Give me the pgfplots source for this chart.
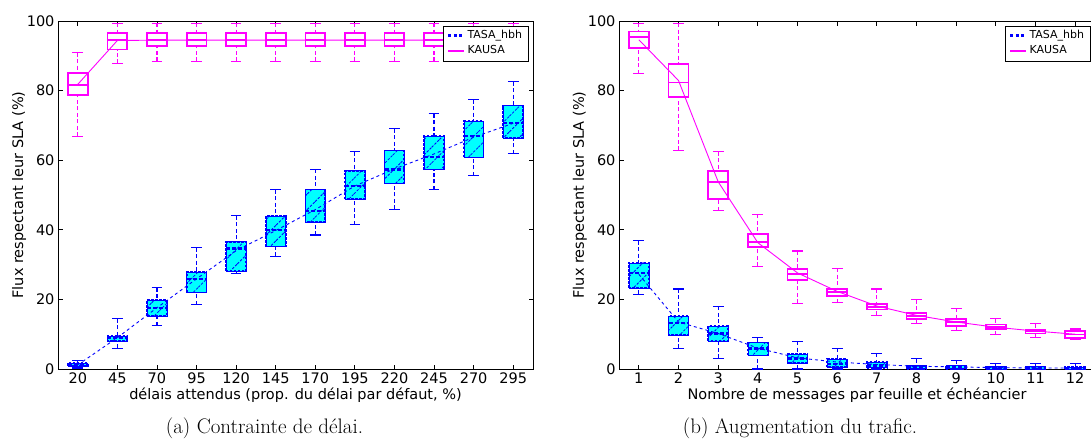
\documentclass[border=0pt]{standalone}
\usepackage{fontspec}
\setmainfont{DejaVu Sans}
\newfontfamily\lmfont{Latin Modern Roman}
\usepackage{pgfplots}
\pgfplotsset{compat=1.18}
\usepgfplotslibrary{statistics}
\usetikzlibrary{patterns.meta}
\definecolor{mag}{RGB}{255,0,255}
\definecolor{cy}{RGB}{0,255,255}
\definecolor{bl}{RGB}{0,0,255}

\pgfplotsset{
  /pgfplots/boxplot/every cap/.style={},
  /pgfplots/boxplot/draw/lower whisker/.code={%
    \draw[/pgfplots/boxplot/every whisker/.try]
      (boxplot box cs:\pgfplotsboxplotvalue{lower whisker},0.5) --
      (boxplot box cs:\pgfplotsboxplotvalue{lower quartile},0.5);
    \draw[/pgfplots/boxplot/every cap/.try]
      (boxplot whisker cs:\pgfplotsboxplotvalue{lower whisker},0) --
      (boxplot whisker cs:\pgfplotsboxplotvalue{lower whisker},1);
  },
  /pgfplots/boxplot/draw/upper whisker/.code={%
    \draw[/pgfplots/boxplot/every whisker/.try]
      (boxplot box cs:\pgfplotsboxplotvalue{upper whisker},0.5) --
      (boxplot box cs:\pgfplotsboxplotvalue{upper quartile},0.5);
    \draw[/pgfplots/boxplot/every cap/.try]
      (boxplot whisker cs:\pgfplotsboxplotvalue{upper whisker},0) --
      (boxplot whisker cs:\pgfplotsboxplotvalue{upper whisker},1);
  },
  kbox/.style={forget plot, draw=mag, boxplot/draw direction=y,
    boxplot/box extend=0.5, boxplot/whisker extend=0.27,
    boxplot/every box/.style={draw=mag, line width=1.8pt, solid},
    boxplot/every median/.style={draw=mag, line width=1.8pt, solid},
    boxplot/every whisker/.style={draw=mag, line width=1.1pt, dash pattern=on 4pt off 2.5pt},
    boxplot/every cap/.style={draw=mag, line width=1.1pt, solid}},
  tbox/.style={forget plot, draw=bl, boxplot/draw direction=y,
    boxplot/box extend=0.5, boxplot/whisker extend=0.27,
    boxplot/every box/.style={draw=bl, line width=1.8pt, dash pattern=on 2.5pt off 1.5pt,
      preaction={fill=cy}, pattern={Lines[angle=45,distance=11pt,line width=0.8pt]}, pattern color=bl},
    boxplot/every median/.style={draw=bl, line width=2.2pt, dash pattern=on 4pt off 2pt},
    boxplot/every whisker/.style={draw=bl, line width=1.1pt, dash pattern=on 4pt off 2.5pt},
    boxplot/every cap/.style={draw=bl, line width=1.1pt, solid}},
  myaxis/.style={scale only axis, height=348pt,
    xmin=0.5, xmax=12.5, ymin=0, ymax=100,
    xtick={1,...,12}, ytick={0,20,40,60,80,100},
    tick align=inside, major tick length=4.5pt,
    every tick/.style={black, line width=0.8pt},
    axis line style={black, line width=0.9pt},
    tick label style={font=\fontsize{14.5}{16}\selectfont},
    /pgf/number format/assume math mode=true,
    label style={font=\fontsize{14.5}{16}\selectfont},
    ylabel={Flux respectant leur SLA (\%)},
    ylabel style={at={(axis description cs:-0.082,0.5)}, anchor=center, inner sep=0pt},
    xlabel style={at={(axis description cs:0.5,-0.089)}, anchor=base, inner sep=0pt},
    legend style={at={(1,1)}, anchor=north east, xshift=-4.5pt, yshift=-4.5pt,
      draw=black, line width=0.8pt, font=\fontsize{11}{13}\selectfont,
      inner xsep=4pt, inner ysep=2.5pt, row sep=1pt,
      nodes={inner sep=2pt, text height=8pt, text depth=2.5pt},
      /tikz/every even column/.append style={column sep=7pt}},
    legend cell align=left,
  },
}
\newcommand{\bx}[7]{\addplot[#1, boxplot prepared={draw direction=y, draw position=#2, lower whisker=#3, lower quartile=#4, median=#5, upper quartile=#6, upper whisker=#7}] coordinates {};}
\newcommand{\legs}{%
  \addlegendimage{legend image code/.code={\draw[bl, line width=2.4pt, dash pattern=on 3pt off 2.5pt] (0pt,0pt) -- (16pt,0pt);}}
  \addlegendentry{TASA\_hbh}
  \addlegendimage{legend image code/.code={\draw[mag, line width=2.4pt] (0pt,0pt) -- (16pt,0pt);}}
  \addlegendentry{KAUSA}}

\begin{document}
\begin{tikzpicture}
\path[use as bounding box] (0pt,0pt) rectangle (1091pt,-439pt);

\begin{axis}[myaxis, at={(58pt,-369pt)}, anchor=south west, width=475pt,
  xticklabels={20,45,70,95,120,145,170,195,220,245,270,295},
  xlabel={délais attendus (prop. du délai par défaut, \%)}]
% TASA_hbh
\bx{tbox}{1}{0.3}{0.9}{1.3}{1.8}{2.5}
\bx{tbox}{2}{6.0}{8.1}{8.8}{9.5}{14.4}
\bx{tbox}{3}{12.5}{15.3}{17.5}{19.8}{23.4}
\bx{tbox}{4}{18.5}{22.0}{25.8}{27.9}{34.9}
\bx{tbox}{5}{27.5}{28.2}{34.6}{36.6}{44.0}
\bx{tbox}{6}{32.4}{35.2}{40.0}{44.0}{51.5}
\bx{tbox}{7}{38.5}{42.3}{45.3}{51.6}{57.4}
\bx{tbox}{8}{41.5}{48.8}{52.6}{57.0}{62.5}
\bx{tbox}{9}{45.9}{53.3}{57.3}{62.8}{69.0}
\bx{tbox}{10}{51.5}{57.3}{61.0}{66.9}{73.4}
\bx{tbox}{11}{55.5}{60.8}{66.9}{71.2}{77.4}
\bx{tbox}{12}{61.9}{66.4}{70.7}{75.7}{82.6}
% KAUSA
\bx{kbox}{1}{66.9}{78.7}{81.7}{85.0}{90.9}
\bx{kbox}{2}{87.9}{91.8}{94.5}{96.5}{99.4}
\bx{kbox}{3}{88.4}{92.8}{94.5}{96.5}{99.4}
\bx{kbox}{4}{88.4}{92.8}{94.5}{96.5}{99.4}
\bx{kbox}{5}{88.4}{92.8}{94.5}{96.5}{99.4}
\bx{kbox}{6}{88.4}{92.8}{94.5}{96.5}{99.4}
\bx{kbox}{7}{88.4}{92.8}{94.5}{96.5}{99.4}
\bx{kbox}{8}{88.4}{92.8}{94.5}{96.5}{99.4}
\bx{kbox}{9}{88.4}{92.8}{94.5}{96.5}{99.4}
\bx{kbox}{10}{88.4}{92.8}{94.5}{96.5}{99.4}
\bx{kbox}{11}{88.4}{92.8}{94.5}{96.5}{99.4}
\bx{kbox}{12}{88.4}{92.8}{94.5}{96.5}{99.4}
% mean lines
\addplot[forget plot, bl, line width=0.9pt, dash pattern=on 3pt off 3pt] coordinates {
 (1,1.2) (2,9.0) (3,17.6) (4,25.9) (5,34.0) (6,39.8) (7,45.8) (8,52.6) (9,57.5) (10,61.8) (11,66.6) (12,70.6)};
\addplot[forget plot, mag, line width=0.9pt] coordinates {
 (1,81.8) (2,94.4) (3,94.5) (4,94.5) (5,94.5) (6,94.5) (7,94.5) (8,94.5) (9,94.5) (10,94.5) (11,94.5) (12,94.5)};
\legs
\end{axis}

\begin{axis}[myaxis, at={(619pt,-369pt)}, anchor=south west, width=476pt,
  xlabel={Nombre de messages par feuille et échéancier}]
% TASA_hbh
\bx{tbox}{1}{21.5}{23.3}{27.7}{30.5}{36.9}
\bx{tbox}{2}{6.0}{9.8}{13.2}{15.2}{23.0}
\bx{tbox}{3}{3.1}{8.1}{10.2}{12.3}{18.0}
\bx{tbox}{4}{0}{3.9}{5.9}{7.6}{9.0}
\bx{tbox}{5}{0}{1.8}{3.0}{4.2}{8.0}
\bx{tbox}{6}{0}{0.5}{1.5}{2.8}{6.0}
\bx{tbox}{7}{0}{0.4}{1.0}{1.9}{4.5}
\bx{tbox}{8}{0}{0.1}{0.5}{1.0}{3.0}
\bx{tbox}{9}{0}{0.1}{0.5}{1.0}{2.5}
\bx{tbox}{10}{0}{0.0}{0.3}{0.7}{1.5}
\bx{tbox}{11}{0}{0.0}{0.3}{0.7}{1.5}
\bx{tbox}{12}{0}{0.0}{0.2}{0.6}{1.5}
% KAUSA
\bx{kbox}{1}{84.9}{92.3}{95.4}{97.0}{99.4}
\bx{kbox}{2}{62.9}{78.2}{82.3}{87.7}{99.4}
\bx{kbox}{3}{45.5}{48.8}{53.7}{56.9}{62.4}
\bx{kbox}{4}{29.5}{35.0}{36.6}{38.8}{44.4}
\bx{kbox}{5}{18.9}{25.5}{27.3}{28.7}{33.9}
\bx{kbox}{6}{19.0}{21.0}{22.1}{23.1}{29.0}
\bx{kbox}{7}{15.5}{17.1}{17.9}{18.7}{23.0}
\bx{kbox}{8}{13.0}{14.4}{15.3}{16.2}{19.9}
\bx{kbox}{9}{11.0}{12.4}{13.5}{14.3}{17.5}
\bx{kbox}{10}{9.9}{11.4}{12.1}{12.8}{14.4}
\bx{kbox}{11}{9.1}{10.2}{10.8}{11.3}{13.0}
\bx{kbox}{12}{8.6}{9.0}{9.9}{11.0}{11.5}
% mean lines
\addplot[forget plot, bl, line width=0.9pt, dash pattern=on 3pt off 3pt] coordinates {
 (1,27.2) (2,13.5) (3,10.2) (4,6.0) (5,3.2) (6,2.0) (7,1.3) (8,0.8) (9,0.6) (10,0.4) (11,0.3) (12,0.3)};
\addplot[forget plot, mag, line width=0.9pt] coordinates {
 (1,94.6) (2,82.9) (3,53.8) (4,36.3) (5,27.6) (6,22.3) (7,18.1) (8,15.4) (9,13.5) (10,12.0) (11,10.9) (12,10.0)};
\legs
\end{axis}

\node[anchor=base, inner sep=0pt, font=\lmfont\fontsize{21}{23}\selectfont] at (264.5pt,-433pt) {(a) Contrainte de délai.};
\node[anchor=base, inner sep=0pt, font=\lmfont\fontsize{21}{23}\selectfont] at (800pt,-433pt) {(b) Augmentation du trafic.};
\end{tikzpicture}
\end{document}
